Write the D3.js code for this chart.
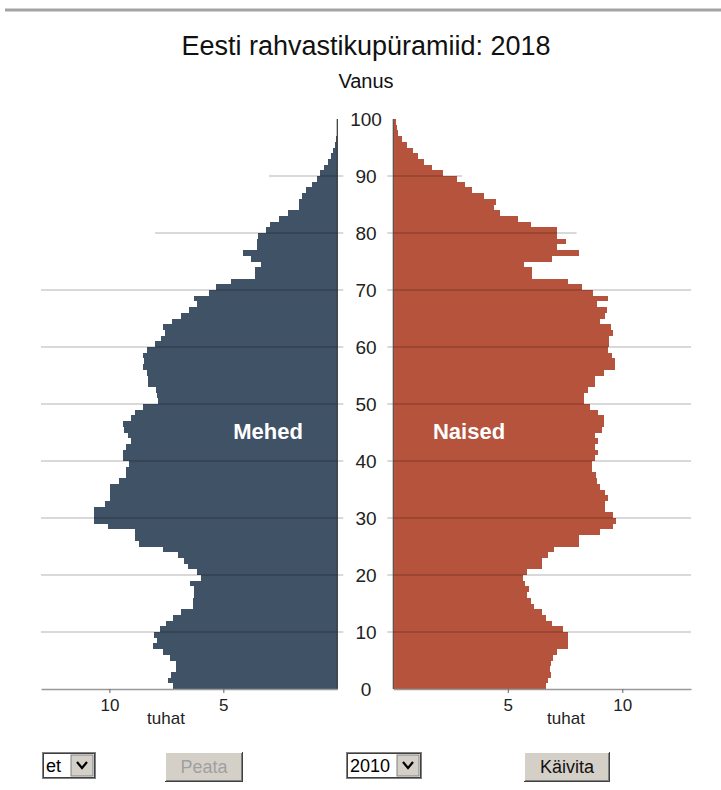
<!DOCTYPE html>
<html>
<head>
<meta charset="utf-8">
<script src="https://cdnjs.cloudflare.com/ajax/libs/d3/7.8.5/d3.min.js"></script>
<style>
  body { margin: 0; background: #fff; }
  svg { display: block; font-family: "Liberation Sans", Arial, sans-serif; }
</style>
</head>
<body>
<svg width="721" height="790"></svg>
<script>
// population per single year of age, thousands (age 0 .. 99)
var ages = d3.range(0, 100);
var males = [
  7.22, 7.41, 7.31, 7.09, 7.09, 7.34, 7.63, 8.10, 7.89, 8.04,
  7.78, 7.51, 7.19, 6.87, 6.31, 6.31, 6.27, 6.27, 6.46, 5.99,
  6.16, 6.57, 6.72, 6.97, 7.63, 8.68, 8.87, 8.87, 10.07, 10.66,
  10.66, 10.66, 10.19, 9.97, 9.97, 9.97, 9.56, 9.27, 9.27, 9.12,
  9.42, 9.42, 9.27, 9.06, 9.17, 9.36, 9.42, 9.06, 8.87, 8.51,
  7.85, 7.92, 7.95, 8.29, 8.29, 8.35, 8.51, 8.46, 8.51, 8.33,
  7.98, 7.75, 7.55, 7.66, 7.27, 6.86, 6.49, 6.14, 6.29, 5.61,
  5.32, 4.68, 3.60, 3.60, 3.36, 3.80, 4.15, 3.51, 3.51, 3.46,
  3.13, 2.95, 2.54, 2.15, 1.68, 1.68, 1.53, 1.37, 1.12, 0.90,
  0.76, 0.57, 0.39, 0.29, 0.20, 0.10, 0.05, 0.03, 0.02, 0.01
];
var females = [
  6.65, 6.77, 6.87, 6.84, 6.87, 6.96, 7.14, 7.65, 7.65, 7.65,
  7.40, 6.92, 6.65, 6.51, 6.14, 6.00, 5.82, 5.94, 5.77, 5.65,
  5.82, 6.48, 6.48, 6.77, 7.02, 8.11, 8.11, 9.03, 9.61, 9.73,
  9.61, 9.25, 9.25, 9.39, 9.25, 9.03, 8.88, 8.84, 8.69, 8.69,
  8.81, 8.95, 8.81, 8.95, 8.81, 9.10, 9.20, 9.20, 8.95, 8.59,
  8.33, 8.33, 8.52, 8.81, 8.81, 9.22, 9.68, 9.68, 9.54, 9.39,
  9.44, 9.44, 9.61, 9.49, 9.03, 9.25, 9.32, 8.88, 9.39, 8.74,
  8.23, 7.65, 6.07, 6.07, 5.71, 6.92, 8.11, 7.13, 7.53, 7.15,
  7.15, 6.03, 5.45, 4.68, 4.39, 4.48, 3.96, 3.45, 3.13, 2.77,
  2.18, 1.71, 1.33, 1.06, 0.84, 0.58, 0.37, 0.20, 0.15, 0.10
];
var ageTicks = [0, 10, 20, 30, 40, 50, 60, 70, 80, 90, 100];
var gridAges = [10, 20, 30, 40, 50, 60, 70, 80, 90];
var gridLen = [13, 13, 13, 13, 13, 13, 13, 8, 3];   // how far each grid line reaches, thousands
var valueTicks = [5, 10];
var title = "Eesti rahvastikupüramiid: 2018";

var svg = d3.select("svg");
var maleCol = "#405266", femaleCol = "#b5533c";

// scales
var y = d3.scaleLinear().domain([0, 100]).range([689, 119]);
var xL = d3.scaleLinear().domain([0, 13]).range([337.3, 41]);
var xR = d3.scaleLinear().domain([0, 13]).range([393.3, 691]);
var barH = y(0) - y(1);

// top rule
svg.append("rect").attr("x", 5).attr("y", 8.5).attr("width", 716).attr("height", 3).attr("fill", "#a3a3a3");

svg.append("text").attr("x", 366).attr("y", 55).attr("text-anchor", "middle")
  .style("font-size", "27px").attr("fill", "#111").text(title);
svg.append("text").attr("x", 366).attr("y", 88).attr("text-anchor", "middle")
  .style("font-size", "20px").attr("fill", "#111").text("Vanus");

// bars
svg.append("g").selectAll("rect").data(ages).enter().append("rect")
  .attr("x", function(a) { return xL(males[a]); })
  .attr("y", function(a) { return y(a + 1); })
  .attr("width", function(a) { return xL(0) - xL(males[a]); })
  .attr("height", barH)
  .attr("shape-rendering", "crispEdges")
  .attr("fill", maleCol);

svg.append("g").selectAll("rect").data(ages).enter().append("rect")
  .attr("x", xR(0))
  .attr("y", function(a) { return y(a + 1); })
  .attr("width", function(a) { return xR(females[a]) - xR(0); })
  .attr("height", barH)
  .attr("shape-rendering", "crispEdges")
  .attr("fill", femaleCol);

// grid lines over the bars
var grid = svg.append("g").attr("stroke", "rgba(0,0,0,0.3)").attr("stroke-width", 1.2);
gridAges.forEach(function(a, i) {
  grid.append("line").attr("x1", xL(gridLen[i])).attr("x2", xL(0) + 6)
    .attr("y1", y(a)).attr("y2", y(a));
  grid.append("line").attr("x1", xR(0) - 6).attr("x2", xR(gridLen[i]))
    .attr("y1", y(a)).attr("y2", y(a));
});

// vertical axes
svg.append("line").attr("x1", xL(0)).attr("x2", xL(0)).attr("y1", y(100)).attr("y2", y(0))
  .attr("stroke", "#333").attr("stroke-width", 1.2);
svg.append("line").attr("x1", xR(0)).attr("x2", xR(0)).attr("y1", y(100)).attr("y2", y(0))
  .attr("stroke", "#555").attr("stroke-width", 1.2);

// age labels in the middle
svg.append("g").selectAll("text").data(ageTicks).enter().append("text")
  .attr("x", 366).attr("y", function(d) { return y(d); })
  .attr("dy", "0.35em").attr("text-anchor", "middle")
  .style("font-size", "19px").attr("fill", "#222")
  .text(function(d) { return d; });

// bottom value axes
var axL = svg.append("g").attr("transform", "translate(0," + y(0) + ")")
  .call(d3.axisBottom(xL).tickValues(valueTicks).tickSize(4).tickSizeOuter(0).tickPadding(6));
var axR = svg.append("g").attr("transform", "translate(0," + y(0) + ")")
  .call(d3.axisBottom(xR).tickValues(valueTicks).tickSize(4).tickSizeOuter(0).tickPadding(6));
[axL, axR].forEach(function(ax) {
  ax.select(".domain").attr("stroke", "#999").attr("stroke-width", 1.5);
  ax.selectAll(".tick line").attr("stroke", "#666");
  ax.selectAll(".tick text").style("font-size", "17px").attr("fill", "#222")
    .style("font-family", "'Liberation Sans', Arial, sans-serif");
});
svg.append("text").attr("x", 166).attr("y", 724).attr("text-anchor", "middle")
  .style("font-size", "17px").attr("fill", "#222").text("tuhat");
svg.append("text").attr("x", 566).attr("y", 724).attr("text-anchor", "middle")
  .style("font-size", "17px").attr("fill", "#222").text("tuhat");

// sex labels
svg.append("text").attr("x", 268).attr("y", 439).attr("text-anchor", "middle")
  .style("font-size", "22px").style("font-weight", "bold").attr("fill", "#fff").text("Mehed");
svg.append("text").attr("x", 469).attr("y", 439).attr("text-anchor", "middle")
  .style("font-size", "22px").style("font-weight", "bold").attr("fill", "#fff").text("Naised");

// controls (old style form widgets)
function selectBox(x, w, label) {
  var g = svg.append("g").attr("transform", "translate(" + x + ",752)");
  g.append("rect").attr("x", 0.5).attr("y", 0.5).attr("width", w).attr("height", 26)
    .attr("fill", "#fff").attr("stroke", "#808080");
  g.append("rect").attr("x", 1.5).attr("y", 1.5).attr("width", w - 2).attr("height", 24)
    .attr("fill", "none").attr("stroke", "#404040");
  g.append("text").attr("x", 4).attr("y", 20).style("font-size", "18px").attr("fill", "#000").text(label);
  var bx = w - 24;
  g.append("rect").attr("x", bx).attr("y", 3).attr("width", 22).attr("height", 21)
    .attr("fill", "#d4d0c8").attr("stroke", "#808080");
  g.append("path").attr("d", "M" + (bx + 6) + ",10 L" + (bx + 11) + ",16 L" + (bx + 16) + ",10")
    .attr("fill", "none").attr("stroke", "#000").attr("stroke-width", 2.2);
}
function button(x, w, label, disabled) {
  var g = svg.append("g").attr("transform", "translate(" + x + ",752)");
  g.append("rect").attr("x", 0).attr("y", 0).attr("width", w).attr("height", 30).attr("fill", "#404040");
  g.append("rect").attr("x", 0).attr("y", 0).attr("width", w - 1).attr("height", 29).attr("fill", "#fff");
  g.append("rect").attr("x", 1).attr("y", 1).attr("width", w - 2).attr("height", 28).attr("fill", "#808080");
  g.append("rect").attr("x", 1).attr("y", 1).attr("width", w - 3).attr("height", 27).attr("fill", "#d4d0c8");
  g.append("text").attr("x", w / 2).attr("y", 21).attr("text-anchor", "middle")
    .style("font-size", "18px").attr("fill", disabled ? "#a0a0a0" : "#111").text(label);
}
selectBox(42, 53, "et");
button(165, 78, "Peata", true);
selectBox(346, 75, "2010");
button(524, 86, "Käivita", false);
</script>
</body>
</html>
